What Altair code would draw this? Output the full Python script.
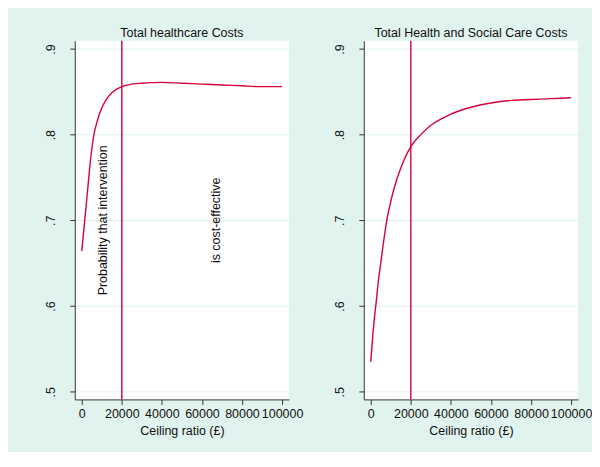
import altair as alt
import pandas as pd

# Left panel: Total healthcare Costs
ceiling_left = [0, 1000, 2000, 3000, 4000, 5000, 6000, 8000, 10000, 12000, 15000,
                20000, 25000, 30000, 40000, 50000, 60000, 70000, 80000, 90000, 100000]
prob_left = [0.664, 0.688, 0.712, 0.737, 0.762, 0.783, 0.799, 0.818, 0.831, 0.840, 0.849,
             0.856, 0.859, 0.860, 0.861, 0.860, 0.859, 0.858, 0.857, 0.856, 0.856]

# Right panel: Total Health and Social Care Costs
ceiling_right = [0, 1000, 2000, 2500, 4000, 5000, 6000, 8000, 10000, 12000, 15000,
                 20000, 25000, 30000, 35000, 40000, 50000, 60000, 70000, 80000, 90000, 100000]
prob_right = [0.535, 0.565, 0.590, 0.600, 0.633, 0.650, 0.668, 0.700, 0.722, 0.740, 0.761,
              0.786, 0.800, 0.811, 0.818, 0.824, 0.832, 0.837, 0.840, 0.841, 0.842, 0.843]

titles = ["Total healthcare Costs", "Total Health and Social Care Costs"]
threshold = [20000]
x_ticks = [0, 20000, 40000, 60000, 80000, 100000]
y_ticks = [0.5, 0.6, 0.7, 0.8, 0.9]
note_text = ["Probability that intervention", "is cost-effective"]
note_x = [10800, 67200]
note_y = [0.70, 0.70]

LINE = "#d6003a"
BG = "#e1f3ee"
GRID = "#dcf2ec"
FONT = "Liberation Sans"
FS = 12.5

x_scale = alt.Scale(domain=[-3480, 103480], nice=False, zero=False)
y_scale = alt.Scale(domain=[0.491, 0.9097], nice=False, zero=False)

x_axis = alt.Axis(values=x_ticks, format="d", title="Ceiling ratio (£)", grid=False,
                  tickSize=5, labelPadding=3, titlePadding=5, domainColor="#333333",
                  tickColor="#333333", labelFontSize=FS, titleFontSize=FS,
                  titleFontWeight="normal", labelColor="#111111", titleColor="#111111",
                  labelFont=FONT, titleFont=FONT)
y_axis = alt.Axis(values=y_ticks, labelExpr="'.' + round(datum.value * 10)", title=None,
                  grid=True, gridColor=GRID, gridWidth=1, tickSize=5, labelPadding=12,
                  labelAngle=270, labelAlign="center", labelBaseline="bottom",
                  domainColor="#333333", tickColor="#333333", labelFontSize=FS,
                  labelColor="#111111", labelFont=FONT)


def panel(xs, ys, title, notes=False):
    df = pd.DataFrame({"ceiling": xs, "prob": ys})
    line = alt.Chart(df).mark_line(color=LINE, strokeWidth=1.4, interpolate="monotone").encode(
        x=alt.X("ceiling:Q", scale=x_scale, axis=x_axis),
        y=alt.Y("prob:Q", scale=y_scale, axis=y_axis),
    )
    rule = alt.Chart(pd.DataFrame({"t": threshold})).mark_rule(color=LINE, strokeWidth=1.4).encode(
        x=alt.X("t:Q", scale=x_scale)
    )
    layers = [line, rule]
    if notes:
        ndf = pd.DataFrame({"label": note_text, "x": note_x, "y": note_y})
        txt = alt.Chart(ndf).mark_text(angle=270, fontSize=FS, font=FONT, color="#111111",
                                       align="center", baseline="middle").encode(
            x=alt.X("x:Q", scale=x_scale), y=alt.Y("y:Q", scale=y_scale), text="label:N"
        )
        layers.append(txt)
    return alt.layer(*layers).properties(
        width=215, height=360,
        title=alt.TitleParams(title, fontSize=FS, font=FONT, fontWeight="normal",
                              color="#111111", offset=0, anchor="middle"),
    )


chart = alt.hconcat(
    panel(ceiling_left, prob_left, titles[0], notes=True),
    panel(ceiling_right, prob_right, titles[1]),
    spacing=30,
).properties(
    background=BG,
    padding={"left": 36, "top": 18, "right": 0, "bottom": 14},
).configure_view(fill="white", stroke=None)

chart.save("out.html", embed_options={"renderer": "svg", "actions": False})
